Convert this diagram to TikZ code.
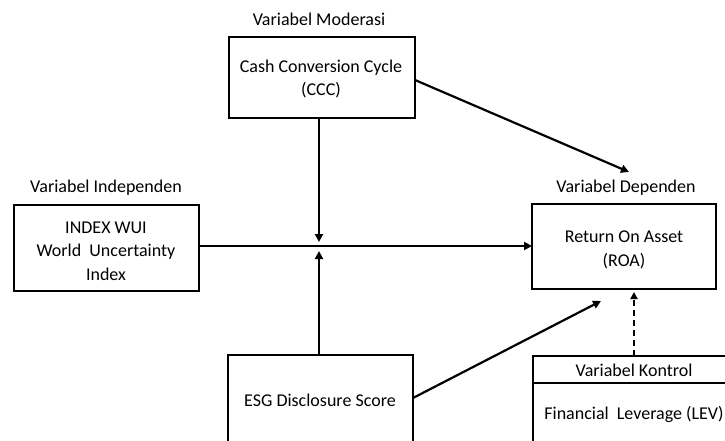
\documentclass[tikz,border=0pt]{standalone}
\usepackage{fontspec}
\setmainfont{Carlito}
\usetikzlibrary{arrows.meta}
\begin{document}
\begin{tikzpicture}[x=1pt,y=-1pt,
  box/.style={draw=black,line width=2.2pt,fill=white},
  lbl/.style={font=\fontsize{18}{22}\selectfont,inner sep=0pt},
  txt/.style={font=\fontsize{18}{23.5}\selectfont,align=center,inner sep=0pt},
  conn/.style={line width=2.2pt,-{Triangle[length=8pt,width=8pt]}},
  dconn/.style={line width=2.2pt,dashed,dash pattern=on 6pt off 4pt,-{Triangle[length=7pt,width=7pt]}}]
\useasboundingbox (0,0) rectangle (725,441);
\clip (0,0) rectangle (725,441);
% boxes
\draw[box] (229,37) rectangle (415,118);
\node[txt] (ccc) at (321,79) {Cash Conversion Cycle\\(CCC)};
\node[lbl] (lmod) at (319,19) {Variabel Moderasi};

\draw[box] (14,205) rectangle (199,291);
\node[txt] (wui) at (106,251) {INDEX WUI\\World\ \ Uncertainty\\Index};
\node[lbl] (lind) at (106,188) {Variabel Independen};

\draw[box] (532,204) rectangle (716,289);
\node[txt] (roa) at (624,250) {Return On Asset\\(ROA)};
\node[lbl] (ldep) at (626,188) {Variabel Dependen};

\draw[box] (228,355) rectangle (413,460);
\node[txt] (esg) at (320,400) {ESG Disclosure Score};

\draw[box] (533,356) rectangle (740,460);
\draw[line width=2.2pt] (533,383) -- (740,383);
\node[lbl] (lkon) at (634,370) {Variabel Kontrol};
\node[lbl] (lev) at (634,414) {Financial\ \ Leverage (LEV)};

% named anchor coordinates
\coordinate (wuiE) at (199,246);
\coordinate (roaW) at (532,246);
\coordinate (cccS) at (319,118);
\coordinate (midT) at (319,242);
\coordinate (esgN) at (319,355);
\coordinate (midB) at (319,251);
\coordinate (cccE) at (415,80);
\coordinate (roaNW) at (629,172);
\coordinate (esgE) at (413,398);
\coordinate (roaSW) at (601,301);
\coordinate (konN) at (634,356);
\coordinate (roaS) at (634,292);

% connectors
\draw[conn] (wuiE) -- (roaW);
\draw[conn] (cccS) -- (midT);
\draw[conn] (esgN) -- (midB);
\draw[conn] (cccE) -- (roaNW);
\draw[conn] (esgE) -- (roaSW);
\draw[dconn] (konN) -- (roaS);
\end{tikzpicture}
\end{document}
